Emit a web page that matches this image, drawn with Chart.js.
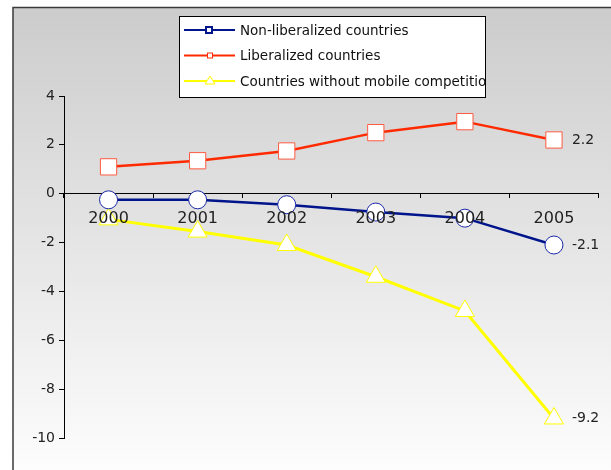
<!DOCTYPE html>
<html>
<head>
<meta charset="utf-8">
<script src="https://cdn.jsdelivr.net/npm/chart.js@4.4.1/dist/chart.umd.min.js"></script>
<style>
  html, body { margin: 0; padding: 0; background: #fff; }
  #wrap { width: 611px; height: 470px; position: relative; }
</style>
</head>
<body>
<div id="wrap"><canvas id="grafico"></canvas></div>
<script>
const years = ["2000", "2001", "2002", "2003", "2004", "2005"];
const non_liberalized = [-0.25, -0.25, -0.45, -0.75, -1.0, -2.1];
const liberalized = [1.1, 1.35, 1.75, 2.5, 2.95, 2.2];
const no_mobile_competition = [-1.05, -1.55, -2.1, -3.4, -4.8, -9.2];
const y_ticks = [4, 2, 0, -2, -4, -6, -8, -10];

const FONT = "'DejaVu Sans', sans-serif";

// fondo degradado con marco
const plugin_fondo = {
  id: "fondo",
  beforeDraw: (chart) => {
    const ctx = chart.ctx;
    const w = chart.width, h = chart.height;
    ctx.save();
    ctx.fillStyle = "#ffffff";
    ctx.fillRect(0, 0, w, h);
    const g = ctx.createLinearGradient(0, 7, 0, h);
    g.addColorStop(0, "#cccccc");
    g.addColorStop(1, "#fdfdfd");
    ctx.fillStyle = g;
    ctx.fillRect(13, 7, w, h);
    ctx.strokeStyle = "#3a3a3a";
    ctx.lineWidth = 1.5;
    ctx.strokeRect(13, 7.5, w + 10, h + 10);
    ctx.restore();
  },
};

// etiquetas del último punto de cada serie
const plugin_ultimo_valor = {
  id: "ultimoValor",
  afterDatasetsDraw: (chart) => {
    const ctx = chart.ctx;
    ctx.save();
    ctx.font = "14px " + FONT;
    ctx.fillStyle = "#222";
    ctx.textBaseline = "middle";
    ctx.textAlign = "left";
    chart.data.datasets.forEach((ds, i) => {
      const pts = chart.getDatasetMeta(i).data;
      const p = pts[pts.length - 1];
      const v = ds.data[ds.data.length - 1];
      ctx.fillText(v.toFixed(1), p.x + 18, p.y);
    });
    ctx.restore();
  },
};

// leyenda en recuadro blanco (el texto se corta en el borde)
const plugin_leyenda = {
  id: "leyendaCaja",
  afterDraw: (chart) => {
    const ctx = chart.ctx;
    const bx = 179.5, by = 16.5, bw = 306, bh = 81;
    ctx.save();
    ctx.fillStyle = "#fff";
    ctx.fillRect(bx, by, bw, bh);
    ctx.strokeStyle = "#000";
    ctx.lineWidth = 1;
    ctx.strokeRect(bx, by, bw, bh);
    ctx.beginPath();
    ctx.rect(bx + 0.5, by + 0.5, bw - 1, bh - 1);
    ctx.clip();
    const filas = [30, 55.5, 81];
    chart.data.datasets.forEach((ds, i) => {
      const y = filas[i];
      ctx.strokeStyle = ds.borderColor;
      ctx.lineWidth = 2;
      ctx.beginPath();
      ctx.moveTo(184, y);
      ctx.lineTo(235, y);
      ctx.stroke();
      ctx.fillStyle = "#fff";
      ctx.strokeStyle = ds.borderColor;
      if (i === 0) {
        ctx.lineWidth = 2;
        ctx.fillRect(206, y - 3, 6, 6);
        ctx.strokeRect(206, y - 3, 6, 6);
      } else if (i === 1) {
        ctx.lineWidth = 1;
        ctx.fillRect(207.5, y - 2.5, 5, 5);
        ctx.strokeRect(207.5, y - 2.5, 5, 5);
      } else {
        ctx.lineWidth = 1;
        ctx.beginPath();
        ctx.moveTo(210, y - 5);
        ctx.lineTo(215, y + 3);
        ctx.lineTo(205, y + 3);
        ctx.closePath();
        ctx.fill();
        ctx.stroke();
      }
      ctx.fillStyle = "#111";
      ctx.font = "13.5px " + FONT;
      ctx.textBaseline = "middle";
      ctx.fillText(ds.label, 240, y + 1);
    });
    ctx.restore();
  },
};

const ctx = document.getElementById("grafico").getContext("2d");
const chart_lineas = new Chart(ctx, {
  type: "line",
  data: {
    labels: years,
    datasets: [
      {
        label: "Non-liberalized countries",
        data: non_liberalized,
        borderColor: "#00148c",
        borderWidth: 2.5,
        pointStyle: "circle",
        pointRadius: 9,
        pointBorderWidth: 1,
        pointBorderColor: "#1a2aa8",
        pointBackgroundColor: "#ffffff",
        tension: 0,
        xAxisID: "x",
      },
      {
        label: "Liberalized countries",
        data: liberalized,
        borderColor: "#ff2a00",
        borderWidth: 2.5,
        pointStyle: "rect",
        pointRadius: 11.5,
        pointBorderWidth: 1,
        pointBorderColor: "#ff5a40",
        pointBackgroundColor: "#ffffff",
        tension: 0,
        xAxisID: "x",
      },
      {
        label: "Countries without mobile competition",
        data: no_mobile_competition,
        borderColor: "#ffff00",
        borderWidth: 3,
        pointStyle: "triangle",
        pointRadius: 11,
        pointBorderWidth: 1,
        pointBorderColor: "#ffff00",
        pointBackgroundColor: "#ffffff",
        tension: 0,
        xAxisID: "x",
      },
    ],
  },
  options: {
    responsive: true,
    maintainAspectRatio: false,
    animation: false,
    layout: {
      padding: { top: 96, bottom: 32, right: 10, left: 0 },
    },
    plugins: {
      legend: { display: false },
      title: { display: false },
      tooltip: { enabled: false },
    },
    scales: {
      y: {
        min: -10,
        max: 4,
        afterBuildTicks: (s) => {
          s.ticks = y_ticks.map((v) => ({ value: v }));
        },
        afterFit: (s) => {
          s.width = 64;
        },
        grid: {
          drawOnChartArea: false,
          color: "#000",
          tickLength: 5,
        },
        border: { color: "#000", width: 1 },
        ticks: {
          color: "#222",
          padding: 4,
          font: { family: FONT, size: 14 },
        },
      },
      x: {
        type: "category",
        position: { y: 0 },
        offset: true,
        grid: {
          drawOnChartArea: false,
          color: "#000",
          tickLength: 4,
          offset: true,
        },
        border: { color: "#000", width: 1 },
        ticks: { display: false },
      },
      // segunda escala solo para poner los años encima de las series
      x2: {
        type: "category",
        axis: "x",
        position: { y: 0 },
        offset: true,
        grid: { display: false },
        border: { display: false },
        ticks: {
          z: 1,
          color: "#222",
          padding: 8,
          maxRotation: 0,
          font: { family: FONT, size: 16 },
        },
      },
    },
  },
  plugins: [plugin_fondo, plugin_ultimo_valor, plugin_leyenda],
});
</script>
</body>
</html>
